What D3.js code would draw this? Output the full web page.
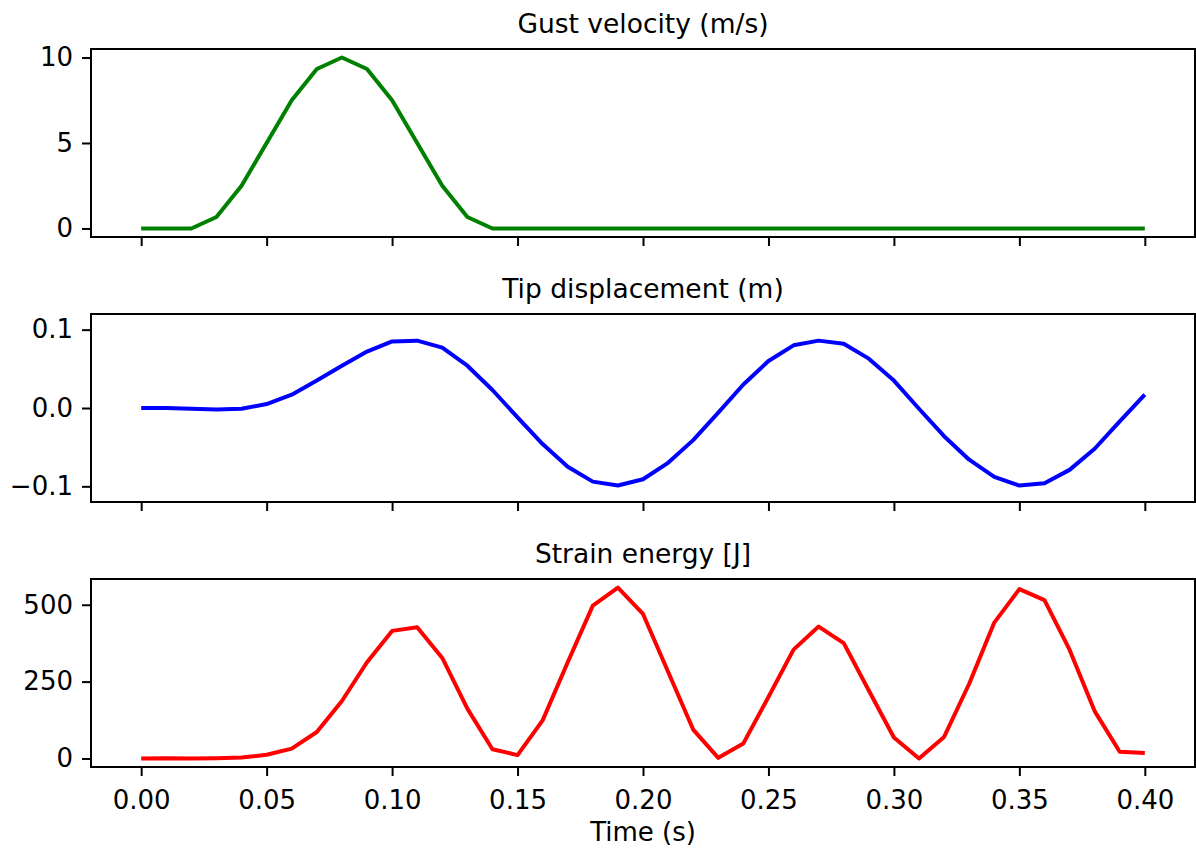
<!DOCTYPE html>
<html>
<head>
<meta charset="utf-8">
<script src="https://cdn.jsdelivr.net/npm/d3@7"></script>
<style>
  body { margin: 0; background: #fff; }
  svg text { font-family: "DejaVu Sans", sans-serif; fill: #000; }
</style>
</head>
<body>
<svg id="chart" width="1196" height="854"></svg>
<script>
// time stamps (s)
var time = [0.00, 0.01, 0.02, 0.03, 0.04, 0.05, 0.06, 0.07, 0.08, 0.09,
            0.10, 0.11, 0.12, 0.13, 0.14, 0.15, 0.16, 0.17, 0.18, 0.19,
            0.20, 0.21, 0.22, 0.23, 0.24, 0.25, 0.26, 0.27, 0.28, 0.29,
            0.30, 0.31, 0.32, 0.33, 0.34, 0.35, 0.36, 0.37, 0.38, 0.39, 0.40];

var gustVelocity = [0, 0, 0, 0.67, 2.5, 5, 7.5, 9.33, 10, 9.33,
                    7.5, 5, 2.5, 0.67, 0, 0, 0, 0, 0, 0,
                    0, 0, 0, 0, 0, 0, 0, 0, 0, 0,
                    0, 0, 0, 0, 0, 0, 0, 0, 0, 0, 0];

var tipDisplacement = [0, 0, -0.001, -0.002, -0.001, 0.005, 0.017, 0.035, 0.054, 0.072,
                       0.085, 0.086, 0.077, 0.054, 0.023, -0.012, -0.046, -0.075, -0.094, -0.099,
                       -0.091, -0.070, -0.041, -0.006, 0.030, 0.060, 0.080, 0.086, 0.082, 0.063,
                       0.035, -0.001, -0.036, -0.066, -0.088, -0.099, -0.096, -0.079, -0.052, -0.017, 0.017];

var strainEnergy = [0, 1, 0, 1, 3, 12, 32, 86, 187, 313,
                    415, 427, 327, 162, 30, 11, 124, 313, 497, 556,
                    470, 282, 94, 2, 49, 200, 354, 429, 375, 221,
                    68, 0, 70, 243, 442, 551, 515, 354, 154, 22, 18];

var xTicks = [0, 0.05, 0.10, 0.15, 0.20, 0.25, 0.30, 0.35, 0.40];

var panels = [
    { title: "Gust velocity (m/s)", values: gustVelocity, color: "#008000", ticks: [0, 5, 10], fmt: d3.format("d") },
    { title: "Tip displacement (m)", values: tipDisplacement, color: "#0000ff", ticks: [-0.1, 0, 0.1], fmt: d3.format(".1f"), domain: [-0.12, 0.12] },
    { title: "Strain energy [J]", values: strainEnergy, color: "#ff0000", ticks: [0, 250, 500], fmt: d3.format("d") }
];

var left = 91, right = 1195;
var panelTops = [49, 314, 579];
var panelHeight = 188;
var fontSize = 26;

var svg = d3.select("#chart");

// matplotlib style 5% margins
var x = d3.scaleLinear()
    .domain([-0.02, 0.42])
    .range([left, right]);

panels.forEach(function (p, i) {
    var top = panelTops[i];
    var ext = d3.extent(p.values);
    var pad = (ext[1] - ext[0]) * 0.05;

    var y = d3.scaleLinear()
        .domain(p.domain || [ext[0] - pad, ext[1] + pad])
        .range([top + panelHeight, top]);

    var g = svg.append("g").attr("class", "panel" + i);

    var line = d3.line()
        .x(function (d, k) { return x(time[k]); })
        .y(function (d) { return y(d); });

    g.append("path")
        .datum(p.values)
        .attr("d", line)
        .attr("fill", "none")
        .attr("stroke", p.color)
        .attr("stroke-width", 4)
        .attr("stroke-linejoin", "round")
        .attr("stroke-linecap", "butt");

    // y axis
    var yAxis = g.append("g")
        .attr("transform", "translate(" + left + ",0)")
        .call(d3.axisLeft(y).tickValues(p.ticks).tickFormat(p.fmt).tickSize(9).tickPadding(9));

    // x axis (labels only on the bottom panel)
    var xAxis = g.append("g")
        .attr("transform", "translate(0," + (top + panelHeight) + ")")
        .call(d3.axisBottom(x).tickValues(xTicks).tickFormat(i === 2 ? d3.format(".2f") : "").tickSize(9).tickPadding(8));

    [yAxis, xAxis].forEach(function (a) {
        a.select(".domain").remove();
        a.selectAll(".tick line").attr("stroke", "#000").attr("stroke-width", 2);
        a.selectAll(".tick text").style("font-size", fontSize + "px").attr("fill", "#000");
    });
    xAxis.selectAll(".tick text").attr("dy", "0.95em");

    // frame
    g.append("rect")
        .attr("x", left)
        .attr("y", top)
        .attr("width", right - left)
        .attr("height", panelHeight)
        .attr("fill", "none")
        .attr("stroke", "#000")
        .attr("stroke-width", 2);

    g.append("text")
        .attr("x", (left + right) / 2)
        .attr("y", top - 16)
        .attr("text-anchor", "middle")
        .style("font-size", "26.5px")
        .text(p.title);
});

svg.append("text")
    .attr("x", (left + right) / 2)
    .attr("y", 841)
    .attr("text-anchor", "middle")
    .style("font-size", fontSize + "px")
    .text("Time (s)");
</script>
</body>
</html>
